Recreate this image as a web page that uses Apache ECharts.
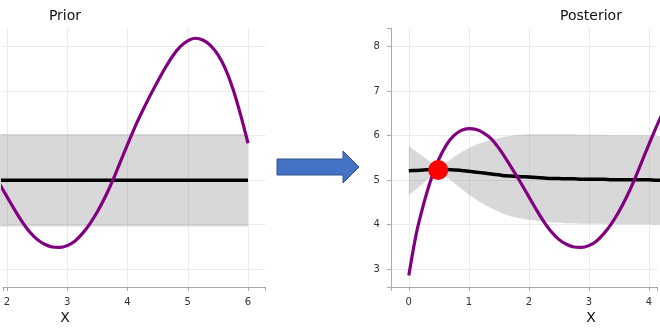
<!DOCTYPE html>
<html>
<head>
<meta charset="utf-8">
<script src="https://cdn.jsdelivr.net/npm/echarts@6/dist/echarts.min.js"></script>
<style>html,body{margin:0;padding:0;background:#fff}#c{width:660px;height:330px}</style>
</head>
<body>
<div id="c"></div>
<script>
var xs = [0,0.125,0.25,0.375,0.5,0.625,0.75,0.875,1,1.125,1.25,1.375,1.5,1.625,1.75,1.875,2,2.125,2.25,2.375,2.5,2.625,2.75,2.875,3,3.125,3.25,3.375,3.5,3.625,3.75,3.875,4,4.125,4.25,4.375,4.5,4.625,4.75,4.875,5,5.125,5.25,5.375,5.5,5.625,5.75,5.875,6];
var truth = [2.86,3.8,4.48,5.04,5.47,5.79,6.0,6.12,6.16,6.14,6.06,5.93,5.72,5.47,5.2,4.92,4.63,4.34,4.07,3.84,3.67,3.56,3.5,3.49,3.53,3.63,3.8,4.02,4.29,4.61,4.98,5.39,5.8,6.2,6.56,6.9,7.22,7.52,7.79,8.0,8.13,8.19,8.15,8.03,7.82,7.5,7.05,6.48,5.83];
var priorMean = [5,5,5,5,5,5,5,5,5,5,5,5,5,5,5,5,5,5,5,5,5,5,5,5,5,5,5,5,5,5,5,5,5,5,5,5,5,5,5,5,5,5,5,5,5,5,5,5,5];
var priorUpper = [6.04,6.04,6.04,6.04,6.04,6.04,6.04,6.04,6.04,6.04,6.04,6.04,6.04,6.04,6.04,6.04,6.04,6.04,6.04,6.04,6.04,6.04,6.04,6.04,6.04,6.04,6.04,6.04,6.04,6.04,6.04,6.04,6.04,6.04,6.04,6.04,6.04,6.04,6.04,6.04,6.04,6.04,6.04,6.04,6.04,6.04,6.04,6.04,6.04];
var priorLower = [3.96,3.96,3.96,3.96,3.96,3.96,3.96,3.96,3.96,3.96,3.96,3.96,3.96,3.96,3.96,3.96,3.96,3.96,3.96,3.96,3.96,3.96,3.96,3.96,3.96,3.96,3.96,3.96,3.96,3.96,3.96,3.96,3.96,3.96,3.96,3.96,3.96,3.96,3.96,3.96,3.96,3.96,3.96,3.96,3.96,3.96,3.96,3.96,3.96];
var postMean = [5.21,5.22,5.23,5.24,5.24,5.24,5.23,5.22,5.2,5.18,5.16,5.14,5.12,5.1,5.09,5.08,5.07,5.06,5.05,5.04,5.04,5.03,5.03,5.02,5.02,5.02,5.02,5.01,5.01,5.01,5.01,5.01,5.01,5,5,5,5,5,5,5,5,5,5,5,5,5,5,5,5];
var postUpper = [5.76,5.64,5.52,5.39,5.26,5.39,5.52,5.63,5.72,5.8,5.86,5.91,5.95,5.98,6.01,6.02,6.03,6.03,6.03,6.03,6.03,6.03,6.03,6.02,6.02,6.02,6.02,6.01,6.01,6.01,6.01,6.01,6.01,6,6,6,6,6,6,6,6,6,6,6,6,6,6,6,6];
var postLower = [4.66,4.8,4.94,5.09,5.22,5.09,4.94,4.81,4.68,4.56,4.46,4.37,4.29,4.22,4.17,4.14,4.11,4.09,4.07,4.05,4.05,4.03,4.03,4.02,4.02,4.02,4.02,4.01,4.01,4.01,4.01,4.01,4.01,4,4,4,4,4,4,4,4,4,4,4,4,4,4,4,4];
var obsX = [0.49];
var obsY = [5.23];
var titles = ['Prior','Posterior'];
var axisName = 'X';

function pairs(x, y){ return x.map(function(v,i){ return [v, y[i]]; }); }
function intLabel(v){ return Math.abs(v - Math.round(v)) < 1e-9 ? String(Math.round(v)) : ''; }

var FONT = 'DejaVu Sans';
function xAxisCfg(idx, mn, mx){
  return {
    type:'value', gridIndex: idx, min:mn, max:mx, minInterval:1, maxInterval:1,
    axisLine:{show:true, onZero:false, lineStyle:{color:'#aaa', width:1}},
    axisTick:{show:true, length:4, lineStyle:{color:'#aaa'}},
    axisLabel:{fontFamily:FONT, fontSize:10, color:'#333', margin:10, formatter:intLabel},
    splitLine:{show:true, showMinLine:false, showMaxLine:false, lineStyle:{color:'#ebebeb', width:1}}
  };
}
function yAxisCfg(idx, visible){
  return {
    type:'value', gridIndex: idx, min:2.6, max:8.42, minInterval:1, maxInterval:1,
    axisLine:{show:visible, onZero:false, lineStyle:{color:'#aaa', width:1}},
    axisTick:{show:visible, length:4, lineStyle:{color:'#aaa'}},
    axisLabel:{show:visible, fontFamily:FONT, fontSize:10, color:'#333', margin:11, formatter:intLabel},
    splitLine:{show:true, showMinLine:false, showMaxLine:false, lineStyle:{color:'#ebebeb', width:1}}
  };
}
function bandSeries(idx, lower, upper){
  return {
    type:'custom', xAxisIndex:idx, yAxisIndex:idx, clip:false, silent:true, z:1,
    data: xs.map(function(x,i){ return [x, lower[i], upper[i]]; }),
    encode:{x:0, y:[1,2]},
    renderItem:function(params, api){
      if (params.dataIndex !== 0) return null;
      var pts = [], i;
      for (i = 0; i < xs.length; i++) pts.push(api.coord([xs[i], upper[i]]));
      for (i = xs.length - 1; i >= 0; i--) pts.push(api.coord([xs[i], lower[i]]));
      return {type:'polygon', shape:{points:pts, smooth:0}, style:{fill:'rgba(128,128,128,0.31)', stroke:null}};
    }
  };
}
function lineSeries(idx, y, color, w, z){
  return {type:'line', xAxisIndex:idx, yAxisIndex:idx, data:pairs(xs, y), symbol:'none', smooth:0.3, clip:true, lineStyle:{color:color, width:w}, z:z, silent:true};
}

var chart = echarts.init(document.getElementById('c'), null, {renderer:'canvas'});
var series = [
  bandSeries(0, priorLower, priorUpper),
  lineSeries(0, priorMean, '#000', 3.5, 3),
  lineSeries(0, truth, '#800080', 3.2, 4),
  bandSeries(1, postLower, postUpper),
  lineSeries(1, postMean, '#000', 3.5, 3),
  lineSeries(1, truth, '#800080', 3.2, 4),
  {type:'scatter', xAxisIndex:1, yAxisIndex:1, data:pairs(obsX, obsY), symbol:'circle', symbolSize:20, itemStyle:{color:'#ff0000', opacity:1}, z:6, silent:true}
];

chart.setOption({
  animation:false,
  backgroundColor:'#fff',
  grid:[
    {left:0, right:394.5, top:28, bottom:43, containLabel:false},
    {left:390.8, right:0, top:28, bottom:43, containLabel:false}
  ],
  xAxis:[xAxisCfg(0, 1.934, 6.29), xAxisCfg(1, -0.3, 4.136)],
  yAxis:[yAxisCfg(0, false), yAxisCfg(1, true)],
  series: series,
  graphic:[
    {type:'text', x:65, y:16, style:{text:titles[0], font:'14px "DejaVu Sans"', fill:'#111', textAlign:'center', textVerticalAlign:'middle'}},
    {type:'text', x:591, y:16, style:{text:titles[1], font:'14px "DejaVu Sans"', fill:'#111', textAlign:'center', textVerticalAlign:'middle'}},
    {type:'text', x:65, y:318, style:{text:axisName, font:'14px "DejaVu Sans"', fill:'#111', textAlign:'center', textVerticalAlign:'middle'}},
    {type:'text', x:591, y:318, style:{text:axisName, font:'14px "DejaVu Sans"', fill:'#111', textAlign:'center', textVerticalAlign:'middle'}},
    {type:'polygon', shape:{points:[[277,159],[343,159],[343,151],[359,167],[343,183],[343,175],[277,175]]}, style:{fill:'#4472C4', stroke:'#2F528F', lineWidth:1}}
  ]
});
</script>
</body>
</html>
